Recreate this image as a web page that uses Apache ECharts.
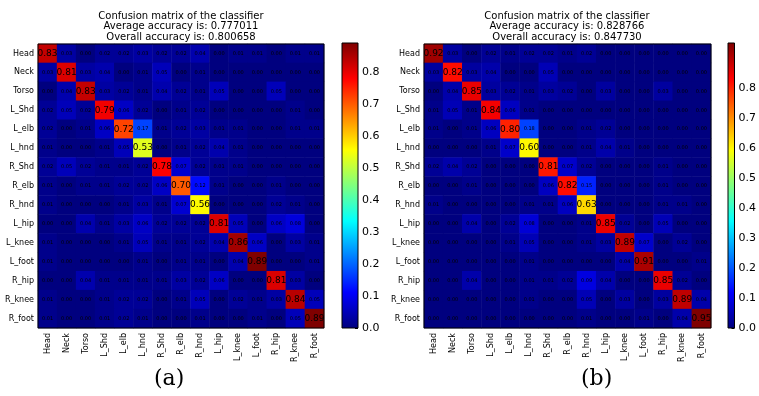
<!DOCTYPE html>
<html>
<head>
<meta charset="utf-8">
<style>
  html, body { margin: 0; padding: 0; background: #fff; }
  #chart-container { width: 759px; height: 396px; }
</style>
<script src="https://cdn.jsdelivr.net/npm/echarts@6/dist/echarts.min.js"></script>
</head>
<body>
<div id="chart-container"></div>
<script>
let joints = ["Head", "Neck", "Torso", "L_Shd", "L_elb", "L_hnd", "R_Shd", "R_elb",
    "R_hnd", "L_hip", "L_knee", "L_foot", "R_hip", "R_knee", "R_foot"];

// rows = true class, cols = predicted
let matrixA = [
    [0.83, 0.03, 0.00, 0.02, 0.02, 0.03, 0.02, 0.02, 0.04, 0.00, 0.01, 0.01, 0.00, 0.01, 0.01],
    [0.03, 0.81, 0.03, 0.04, 0.00, 0.01, 0.05, 0.00, 0.01, 0.00, 0.00, 0.00, 0.00, 0.00, 0.00],
    [0.00, 0.04, 0.83, 0.03, 0.02, 0.01, 0.04, 0.02, 0.01, 0.05, 0.00, 0.00, 0.05, 0.00, 0.00],
    [0.02, 0.05, 0.02, 0.79, 0.06, 0.02, 0.00, 0.01, 0.02, 0.00, 0.00, 0.00, 0.00, 0.01, 0.00],
    [0.02, 0.00, 0.01, 0.06, 0.72, 0.17, 0.01, 0.02, 0.03, 0.01, 0.01, 0.00, 0.00, 0.01, 0.01],
    [0.01, 0.00, 0.00, 0.01, 0.05, 0.53, 0.00, 0.01, 0.02, 0.04, 0.01, 0.00, 0.00, 0.00, 0.00],
    [0.02, 0.05, 0.02, 0.01, 0.01, 0.02, 0.78, 0.07, 0.02, 0.01, 0.01, 0.00, 0.00, 0.00, 0.00],
    [0.01, 0.00, 0.01, 0.01, 0.02, 0.02, 0.06, 0.70, 0.12, 0.01, 0.00, 0.00, 0.01, 0.00, 0.00],
    [0.01, 0.00, 0.00, 0.00, 0.01, 0.03, 0.01, 0.07, 0.56, 0.00, 0.00, 0.00, 0.02, 0.01, 0.00],
    [0.00, 0.00, 0.04, 0.01, 0.03, 0.06, 0.02, 0.02, 0.02, 0.81, 0.05, 0.00, 0.06, 0.08, 0.00],
    [0.01, 0.00, 0.00, 0.00, 0.01, 0.05, 0.01, 0.01, 0.02, 0.04, 0.86, 0.06, 0.00, 0.03, 0.01],
    [0.01, 0.00, 0.00, 0.00, 0.00, 0.01, 0.00, 0.01, 0.01, 0.00, 0.04, 0.89, 0.00, 0.00, 0.01],
    [0.00, 0.00, 0.04, 0.01, 0.01, 0.01, 0.01, 0.03, 0.02, 0.06, 0.00, 0.00, 0.81, 0.03, 0.00],
    [0.01, 0.00, 0.00, 0.01, 0.02, 0.02, 0.00, 0.01, 0.05, 0.00, 0.02, 0.01, 0.03, 0.84, 0.05],
    [0.01, 0.00, 0.00, 0.01, 0.02, 0.01, 0.00, 0.00, 0.01, 0.00, 0.00, 0.01, 0.00, 0.05, 0.89],
];

let matrixB = [
    [0.92, 0.03, 0.00, 0.02, 0.01, 0.02, 0.02, 0.01, 0.02, 0.00, 0.00, 0.00, 0.00, 0.00, 0.00],
    [0.03, 0.82, 0.03, 0.04, 0.00, 0.00, 0.05, 0.00, 0.00, 0.00, 0.00, 0.00, 0.00, 0.00, 0.00],
    [0.00, 0.04, 0.85, 0.03, 0.02, 0.01, 0.03, 0.02, 0.00, 0.03, 0.00, 0.00, 0.03, 0.00, 0.00],
    [0.01, 0.05, 0.01, 0.84, 0.06, 0.01, 0.00, 0.00, 0.00, 0.00, 0.00, 0.00, 0.00, 0.00, 0.00],
    [0.01, 0.00, 0.01, 0.06, 0.80, 0.18, 0.00, 0.00, 0.01, 0.02, 0.00, 0.00, 0.00, 0.00, 0.00],
    [0.00, 0.00, 0.00, 0.01, 0.07, 0.60, 0.00, 0.00, 0.01, 0.04, 0.01, 0.00, 0.00, 0.00, 0.00],
    [0.02, 0.04, 0.02, 0.00, 0.00, 0.00, 0.81, 0.07, 0.02, 0.00, 0.00, 0.00, 0.01, 0.00, 0.00],
    [0.00, 0.00, 0.01, 0.00, 0.00, 0.00, 0.06, 0.82, 0.15, 0.00, 0.00, 0.00, 0.01, 0.00, 0.00],
    [0.01, 0.00, 0.00, 0.00, 0.00, 0.01, 0.01, 0.06, 0.63, 0.00, 0.00, 0.00, 0.01, 0.01, 0.00],
    [0.00, 0.00, 0.04, 0.00, 0.02, 0.08, 0.00, 0.00, 0.01, 0.85, 0.02, 0.00, 0.05, 0.00, 0.00],
    [0.00, 0.00, 0.00, 0.00, 0.01, 0.05, 0.00, 0.00, 0.01, 0.03, 0.89, 0.07, 0.00, 0.02, 0.00],
    [0.00, 0.00, 0.00, 0.00, 0.00, 0.01, 0.00, 0.00, 0.00, 0.00, 0.04, 0.91, 0.00, 0.00, 0.01],
    [0.00, 0.00, 0.04, 0.00, 0.00, 0.01, 0.01, 0.02, 0.09, 0.04, 0.00, 0.00, 0.85, 0.02, 0.00],
    [0.00, 0.00, 0.00, 0.00, 0.00, 0.01, 0.00, 0.00, 0.05, 0.00, 0.03, 0.00, 0.03, 0.89, 0.04],
    [0.00, 0.00, 0.00, 0.00, 0.00, 0.00, 0.00, 0.00, 0.01, 0.00, 0.00, 0.01, 0.00, 0.04, 0.95],
];

let accuracyA = ["0.777011", "0.800658"];
let accuracyB = ["0.828766", "0.847730"];
let colorbarMax = [0.89, 0.95];
let colorbarLastTick = 0.8;

// matplotlib "jet"
let jet = ["#00007f", "#0000ff", "#007fff", "#00ffff", "#7fff7f", "#ffff00", "#ff7f00", "#ff0000", "#7f0000"];

let font = "DejaVu Sans";

function heatData(m) {
    let out = [];
    m.forEach((row, r) => {
        row.forEach((v, c) => {
            out.push({
                value: [c, r, v],
                label: { fontSize: r === c ? 9 : 5 },
            });
        });
    });
    return out;
}

function titleText(acc) {
    return "Confusion matrix of the classifier\nAverage accuracy is: " + acc[0] +
        "\nOverall accuracy is: " + acc[1];
}

let gradStops = jet.map((c, i) => ({ offset: i / (jet.length - 1), color: c }));

let dom = document.getElementById("chart-container");
let myChart = echarts.init(dom, null, { renderer: "canvas" });

let grids = [
    { left: 38, top: 44, width: 286, height: 284 },
    { left: 342, top: 43, width: 16, height: 285 },
    { left: 424, top: 44, width: 287, height: 284 },
    { left: 728, top: 43, width: 16, height: 285 },
];

function matrixAxes(gi) {
    return {
        x: {
            type: "category", gridIndex: gi, data: joints, position: "bottom",
            axisLine: { show: false },
            axisTick: { alignWithLabel: true, inside: true, length: 3, lineStyle: { color: "#000" } },
            axisLabel: { rotate: 90, fontSize: 8, color: "#000", fontFamily: font, interval: 0, margin: 5 },
            splitLine: { show: false },
        },
        y: {
            type: "category", gridIndex: gi, data: joints, inverse: true,
            axisLine: { show: false },
            axisTick: { alignWithLabel: true, inside: true, length: 3, lineStyle: { color: "#000" } },
            axisLabel: { fontSize: 8, color: "#000", fontFamily: font, interval: 0, margin: 4 },
            splitLine: { show: false },
        },
    };
}

function barAxes(gi, max) {
    return {
        x: { type: "category", gridIndex: gi, data: [""], show: false },
        y: {
            type: "value", gridIndex: gi, min: 0, max: max, interval: 0.1, position: "right",
            axisLine: { show: false },
            axisTick: { show: true, inside: true, length: 3, lineStyle: { color: "#000" } },
            axisLabel: {
                fontSize: 11, color: "#000", fontFamily: font, margin: 4,
                showMaxLabel: false,
                formatter: (v) => (v <= colorbarLastTick + 1e-9 ? v.toFixed(1) : ""),
            },
            splitLine: { show: false },
        },
    };
}

let axA = matrixAxes(0), cbA = barAxes(1, colorbarMax[0]);
let axB = matrixAxes(2), cbB = barAxes(3, colorbarMax[1]);

function heatSeries(gi, m) {
    return {
        type: "heatmap",
        xAxisIndex: gi, yAxisIndex: gi,
        data: heatData(m),
        label: {
            show: true, color: "#000", fontFamily: font,
            formatter: (p) => p.value[2].toFixed(2),
        },
        itemStyle: { borderWidth: 0 },
        emphasis: { disabled: true },
    };
}

function barSeries(gi, max) {
    return {
        type: "bar",
        xAxisIndex: gi, yAxisIndex: gi,
        data: [max],
        barWidth: "100%",
        itemStyle: {
            color: new echarts.graphic.LinearGradient(0, 1, 0, 0, gradStops),
        },
        silent: true,
    };
}

let titleStyle = { fontSize: 10, fontWeight: "normal", color: "#000", lineHeight: 10.5, fontFamily: font };

let option = {
    animation: false,
    textStyle: { fontFamily: font },
    title: [
        { text: titleText(accuracyA), left: 181, top: 11, padding: 0, textAlign: "center", textStyle: titleStyle },
        { text: titleText(accuracyB), left: 567, top: 11, padding: 0, textAlign: "center", textStyle: titleStyle },
    ],
    grid: grids.map((g) => Object.assign({ show: true, borderColor: "#000", borderWidth: 1, backgroundColor: "transparent", z: 5 }, g)),
    xAxis: [axA.x, cbA.x, axB.x, cbB.x],
    yAxis: [axA.y, cbA.y, axB.y, cbB.y],
    visualMap: [
        { type: "continuous", seriesIndex: 0, min: 0, max: colorbarMax[0], dimension: 2, show: false, inRange: { color: jet } },
        { type: "continuous", seriesIndex: 2, min: 0, max: colorbarMax[1], dimension: 2, show: false, inRange: { color: jet } },
    ],
    series: [
        heatSeries(0, matrixA),
        barSeries(1, colorbarMax[0]),
        heatSeries(2, matrixB),
        barSeries(3, colorbarMax[1]),
    ],
    graphic: [
        { type: "text", left: 154, top: 368, style: { text: "(a)", fontSize: 22, fontFamily: "DejaVu Serif", fill: "#000" } },
        { type: "text", left: 581, top: 368, style: { text: "(b)", fontSize: 22, fontFamily: "DejaVu Serif", fill: "#000" } },
    ],
};

myChart.setOption(option);
window.addEventListener("resize", myChart.resize);
</script>
</body>
</html>
